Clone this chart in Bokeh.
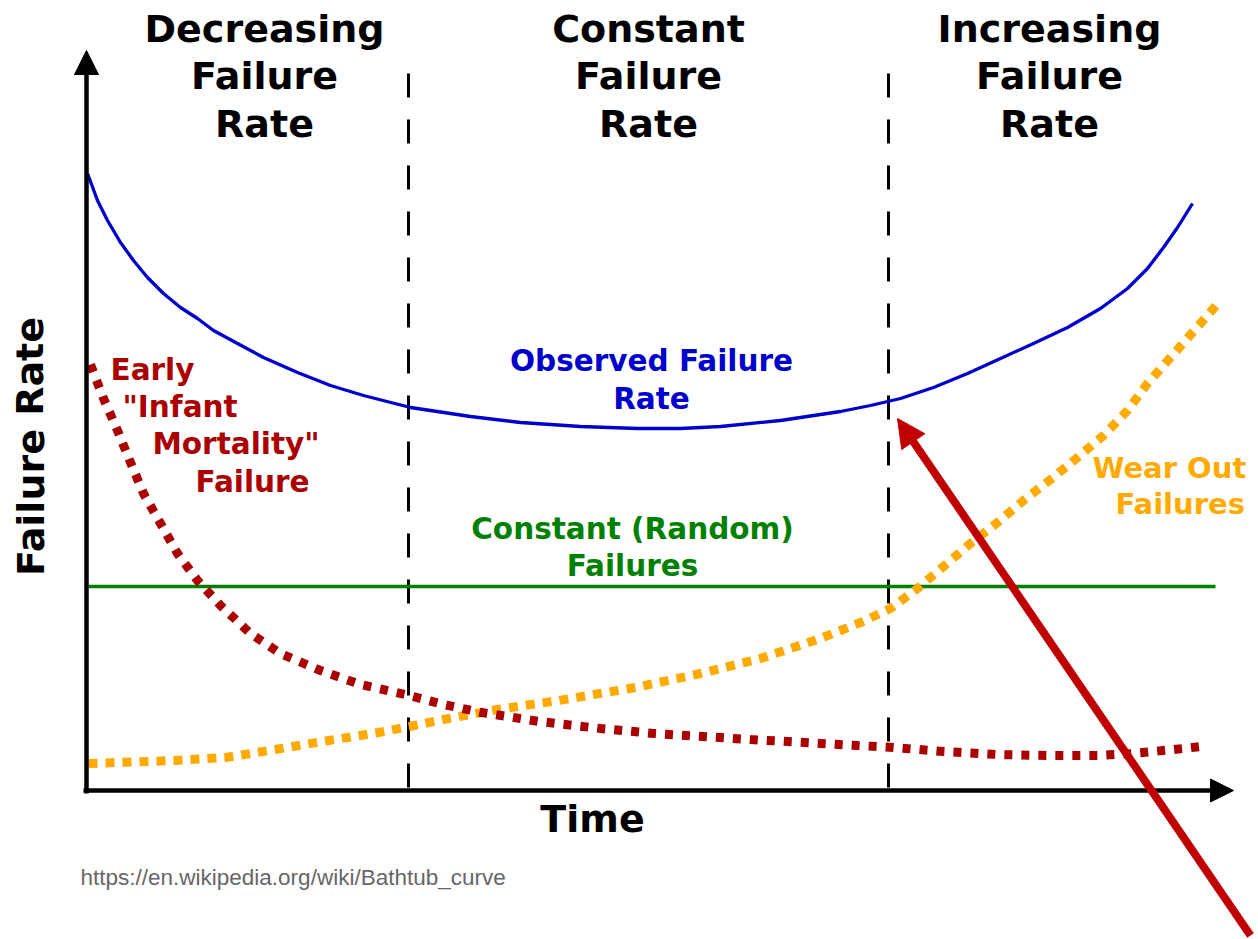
from bokeh.plotting import figure
from bokeh.models import Range1d, Arrow, NormalHead
from bokeh.core.properties import value
from bokeh.embed import file_html
from bokeh.resources import INLINE

# ---------------- data (time units, failure-rate units) ----------------
obs_time = [0.01, 0.11, 0.21, 0.34, 0.47, 0.61, 0.77, 0.94, 1.11, 1.27, 1.51, 1.77,
            2.11, 2.44, 2.77, 3.24, 3.84, 4.34, 4.94, 5.51, 5.94, 6.34, 6.94, 7.54,
            7.84, 8.14, 8.47, 8.81, 9.14, 9.47, 9.81, 10.14, 10.41, 10.61, 10.77,
            10.91, 11.06]
obs_rate = [6.17, 5.90, 5.70, 5.48, 5.30, 5.13, 4.97, 4.83, 4.72, 4.60, 4.47, 4.33,
            4.18, 4.05, 3.95, 3.83, 3.74, 3.68, 3.64, 3.62, 3.62, 3.64, 3.70, 3.79,
            3.85, 3.92, 4.03, 4.17, 4.32, 4.47, 4.63, 4.82, 5.02, 5.22, 5.43,
            5.63, 5.87]

early_time = [0.04, 0.17, 0.31, 0.44, 0.57, 0.74, 0.91, 1.11, 1.34, 1.64, 1.94, 2.34,
              2.74, 3.19, 3.57, 3.95, 4.53, 5.14, 5.68, 6.64, 7.71, 8.07, 8.57, 9.11,
              9.61, 10.11, 10.47, 10.97, 11.14]
early_rate = [4.26, 3.92, 3.60, 3.28, 2.97, 2.67, 2.37, 2.10, 1.85, 1.57, 1.37, 1.20,
              1.06, 0.96, 0.86, 0.78, 0.69, 0.62, 0.57, 0.51, 0.45, 0.43, 0.39, 0.36,
              0.35, 0.35, 0.37, 0.42, 0.44]

wear_time = [0.02, 0.89, 1.39, 1.89, 2.42, 2.92, 3.23, 3.57, 4.11, 4.72, 5.49, 6.14,
             6.74, 7.34, 7.74, 8.04, 8.31, 8.57, 8.84, 9.11, 9.37, 9.64, 9.91, 10.17,
             10.41, 10.61, 10.99, 11.34]
wear_rate = [0.27, 0.30, 0.33, 0.41, 0.50, 0.58, 0.64, 0.71, 0.81, 0.90, 1.03, 1.17,
             1.32, 1.52, 1.68, 1.82, 2.02, 2.24, 2.47, 2.68, 2.90, 3.11, 3.33, 3.55,
             3.80, 4.07, 4.50, 4.90]

random_time = [0.02, 11.29]
random_rate = [2.04, 2.04]

phase_bounds = [3.22, 8.02]
phase_top = 7.17

phase_names = [["Decreasing", "Failure", "Rate"],
               ["Constant", "Failure", "Rate"],
               ["Increasing", "Failure", "Rate"]]
phase_centers = [1.78, 5.62, 9.63]
phase_baselines = [7.62, 7.15, 6.67]

x_label = "Time"
y_label = "Failure Rate"
obs_label = ["Observed Failure", "Rate"]
random_label = ["Constant (Random)", "Failures"]
early_label = ["Early", "\"Infant", "Mortality\"", "Failure"]
wear_label = ["Wear Out", "Failures"]
source_text = "https://en.wikipedia.org/wiki/Bathtub_curve"

# pointer arrow (annotation)
pointer_start = (11.64, -1.45)
pointer_end = (8.11, 3.72)

# ---------------- figure ----------------
p = figure(width=1258, height=939, output_backend="svg", toolbar_location=None,
           x_range=Range1d(-0.86, 11.72), y_range=Range1d(-1.49, 7.90),
           x_axis_location=None, y_axis_location=None, min_border=0)
p.grid.visible = False
p.outline_line_color = None
p.background_fill_color = "white"
p.border_fill_color = "white"

BLUE = "#0000CC"
GREEN = "#008000"
RED = "#AA0000"
ORANGE = "#FFAA00"
FONT = value("DejaVu Sans")

# phase boundaries
for b in phase_bounds:
    p.line([b, b], [phase_top, 0], line_color="black", line_width=3, line_dash="24 22")

# curves
p.line(random_time, random_rate, line_color=GREEN, line_width=3.5)
p.line(obs_time, obs_rate, line_color=BLUE, line_width=3.3, line_join="round")
p.line(wear_time, wear_rate, line_color=ORANGE, line_width=9, line_dash="9 8")
p.line(early_time, early_rate, line_color=RED, line_width=9, line_dash="8 9")

# axes as arrows
p.add_layout(Arrow(end=NormalHead(size=24, fill_color="black", line_color="black", line_width=1),
                   x_start=0, y_start=-0.03, x_end=0, y_end=7.40,
                   line_color="black", line_width=4.5))
p.add_layout(Arrow(end=NormalHead(size=23, fill_color="black", line_color="black", line_width=1),
                   x_start=-0.03, y_start=0, x_end=11.47, y_end=0,
                   line_color="black", line_width=4.5))

def txt(xs, ys, texts, color, size, align="center", angle=0.0, font=FONT, style="bold"):
    p.text(x=xs, y=ys, text=texts, text_color=color, text_font=font,
           text_font_size=size, text_font_style=style, text_align=align,
           text_baseline="alphabetic", angle=angle)

# phase headers
for cx, lines in zip(phase_centers, phase_names):
    txt([cx] * len(lines), phase_baselines, lines, "black", "38px")

# axis labels
txt([5.06], [-0.28], [x_label], "black", "38px")
txt([-0.56], [3.44], [y_label], "black", "38px", angle=1.5708)

# curve labels
txt([5.65, 5.65], [4.30, 3.92], obs_label, BLUE, "29.5px")
txt([5.46, 5.46], [2.62, 2.25], random_label, GREEN, "29.5px")
txt([0.24, 0.36, 0.66, 1.09], [4.21, 3.84, 3.47, 3.09], early_label, RED, "29.5px", align="left")
txt([10.06, 10.29], [3.23, 2.87], wear_label, ORANGE, "29px", align="left")

# source
txt([-0.06], [-0.87], [source_text], "#666666", "22.5px", align="left",
    font=value("Liberation Sans"), style="normal")

# red pointer arrow
p.add_layout(Arrow(end=NormalHead(size=28, fill_color="#C00000", line_color="#C00000", line_width=1),
                   x_start=pointer_start[0], y_start=pointer_start[1],
                   x_end=pointer_end[0], y_end=pointer_end[1],
                   line_color="#C00000", line_width=8))

open("out.html", "w").write(file_html(p, INLINE))
